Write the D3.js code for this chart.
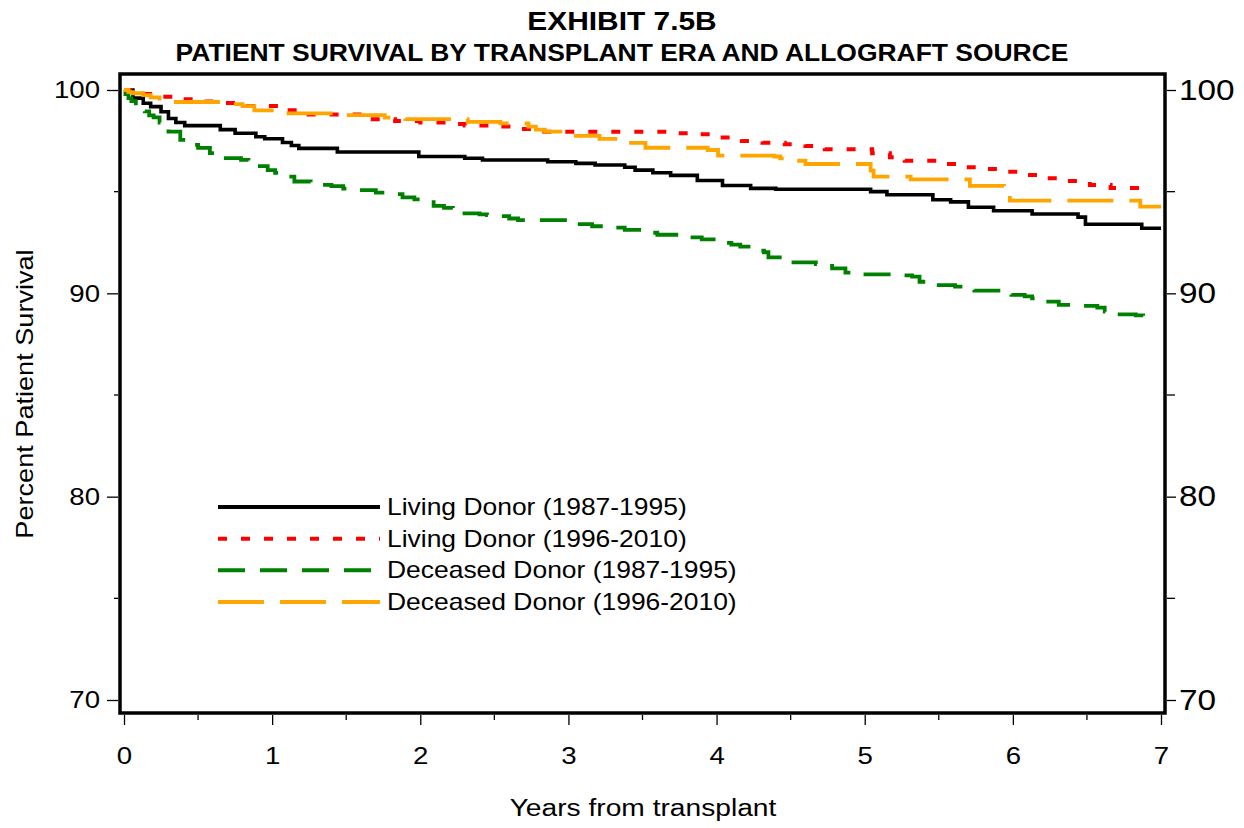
<!DOCTYPE html>
<html>
<head>
<meta charset="utf-8">
<script src="https://cdn.jsdelivr.net/npm/d3@7"></script>
<style>
  body { margin: 0; background: #fff; }
  svg { display: block; }
  text { font-family: Arial, "Liberation Sans", sans-serif; fill: #000; }
</style>
</head>
<body>
<svg id="chart" width="1244" height="828"></svg>
<script>
// Kaplan-Meier patient survival, [years, percent surviving], step after each time
const livingEarly = [[0,100],[0.06,99.6],[0.13,99.35],[0.18,99.18],[0.25,98.93],[0.30,98.6],[0.35,98.4],[0.41,98.25],[0.65,98.05],[0.75,97.87],[0.89,97.7],[0.95,97.6],[1.07,97.42],[1.13,97.27],[1.18,97.13],[1.44,96.95],[1.99,96.73],[2.30,96.64],[2.42,96.56],[2.86,96.47],[3.05,96.39],[3.18,96.31],[3.38,96.2],[3.45,96.06],[3.57,95.93],[3.69,95.8],[3.87,95.55],[4.04,95.3],[4.23,95.16],[4.40,95.12],[5.04,95.0],[5.15,94.85],[5.46,94.6],[5.58,94.5],[5.70,94.23],[5.87,94.06],[6.13,93.9],[6.44,93.75],[6.49,93.4],[6.87,93.2],[7.0,93.2]];

const livingLate = [[0,100],[0.04,99.9],[0.09,99.8],[0.21,99.67],[0.34,99.54],[0.48,99.43],[0.61,99.36],[0.78,99.21],[1.09,99.0],[1.19,98.8],[1.66,98.56],[1.83,98.47],[2.0,98.4],[2.17,98.33],[2.30,98.25],[2.47,98.2],[2.61,98.08],[2.75,97.95],[3.67,97.87],[3.86,97.82],[4.02,97.67],[4.17,97.49],[4.31,97.41],[4.46,97.33],[4.60,97.25],[4.73,97.08],[5.05,96.89],[5.17,96.69],[5.27,96.52],[5.54,96.36],[5.68,96.2],[5.81,96.11],[5.95,95.98],[6.08,95.82],[6.22,95.66],[6.35,95.52],[6.52,95.33],[6.66,95.18],[6.93,95.18]];

const deceasedEarly = [[0,100],[0.01,99.8],[0.03,99.6],[0.05,99.45],[0.08,99.25],[0.11,99.05],[0.14,98.95],[0.17,98.75],[0.20,98.65],[0.24,98.4],[0.27,98.15],[0.30,97.95],[0.38,97.55],[0.42,97.4],[0.46,97.3],[0.50,97.15],[0.58,96.9],[0.63,96.75],[0.67,96.65],[0.79,96.56],[0.84,96.4],[0.90,96.26],[0.97,96.06],[1.02,95.92],[1.07,95.74],[1.15,95.5],[1.26,95.42],[1.31,95.33],[1.40,95.27],[1.48,95.15],[1.53,95.08],[1.70,94.95],[1.76,94.88],[1.88,94.72],[1.96,94.62],[2.01,94.48],[2.09,94.3],[2.16,94.2],[2.22,94.1],[2.28,93.93],[2.40,93.88],[2.45,93.85],[2.53,93.8],[2.60,93.68],[2.66,93.6],[3.0,93.5],[3.06,93.4],[3.16,93.3],[3.30,93.23],[3.38,93.12],[3.54,92.98],[3.60,92.88],[3.77,92.75],[3.90,92.65],[4.0,92.48],[4.10,92.4],[4.16,92.3],[4.23,92.1],[4.32,92.02],[4.35,91.77],[4.45,91.64],[4.50,91.52],[4.67,91.44],[4.72,91.35],[4.78,91.23],[4.87,91.02],[4.98,90.93],[5.25,90.88],[5.32,90.82],[5.37,90.57],[5.42,90.5],[5.48,90.4],[5.61,90.33],[5.66,90.25],[5.74,90.13],[5.92,90.08],[5.99,89.92],[6.08,89.85],[6.13,89.75],[6.20,89.59],[6.31,89.43],[6.47,89.38],[6.57,89.3],[6.62,89.1],[6.67,88.97],[6.83,88.92],[6.88,88.8],[6.92,88.72]];

const deceasedLate = [[0,100],[0.03,99.9],[0.06,99.84],[0.13,99.75],[0.18,99.64],[0.24,99.41],[0.65,99.31],[0.80,99.21],[0.88,99.0],[1.02,98.93],[1.07,98.85],[1.46,98.76],[1.76,98.64],[1.90,98.57],[2.32,98.43],[2.54,98.36],[2.73,98.2],[2.78,98.05],[2.84,97.95],[2.99,97.74],[3.21,97.6],[3.40,97.4],[3.52,97.16],[3.94,97.05],[4.01,96.77],[4.39,96.73],[4.43,96.64],[4.49,96.52],[4.60,96.36],[5.04,96.03],[5.06,95.74],[5.31,95.6],[5.71,95.28],[5.94,95.12],[5.98,94.56],[6.86,94.26],[7.0,94.26]];

const seriesLabels = ["Living Donor (1987-1995)", "Living Donor (1996-2010)", "Deceased Donor (1987-1995)", "Deceased Donor (1996-2010)"];
const seriesData = [livingEarly, livingLate, deceasedEarly, deceasedLate];

const yMajorTicks = [70, 80, 90, 100];
const yMinorTicks = [75, 85, 95];
const xMajorTicks = [0, 1, 2, 3, 4, 5, 6, 7];
const xMinorTicks = [0.5, 1.5, 2.5, 3.5, 4.5, 5.5, 6.5];

const titleLines = ["EXHIBIT 7.5B", "PATIENT SURVIVAL BY TRANSPLANT ERA AND ALLOGRAFT SOURCE"];
const yTitle = "Percent Patient Survival";
const xTitle = "Years from transplant";

// line styling per series (same order as seriesData)
const styles = [
  { color: "#000000", dash: null,    width: 3.6 },
  { color: "#ff0000", dash: "9,14",  width: 4 },
  { color: "#008000", dash: "27,15", width: 3.8 },
  { color: "#ffa500", dash: "46,16", width: 3.8 }
];

const SX = 1.15; // horizontal widening applied to all lettering

const svg = d3.select("#chart");
const frame = { left: 120, top: 74, right: 1165, bottom: 713 };

const x = d3.scaleLinear().domain([0, 7]).range([124, 1161]);
const y = d3.scaleLinear().domain([70, 100]).range([700, 90]);

function wideText(sel, sx) {
  sel.each(function () {
    const t = d3.select(this);
    const xv = +t.attr("x") || 0;
    t.attr("x", xv / sx).attr("transform", `scale(${sx},1)`);
  });
}

// titles
const titleSizes = [26, 23];
const titleBase = [30, 61];
titleLines.forEach((s, i) => {
  svg.append("g").attr("transform", `translate(622,${titleBase[i]}) scale(${SX},1)`)
    .append("text").attr("text-anchor", "middle")
    .style("font-weight", "bold").style("font-size", titleSizes[i] + "px")
    .text(s);
});

// survival curves
const line = d3.line().curve(d3.curveStepAfter).x(d => x(d[0])).y(d => y(d[1]));
seriesData.forEach((data, i) => {
  svg.append("path").datum(data)
    .attr("d", line)
    .attr("fill", "none")
    .attr("stroke", styles[i].color)
    .attr("stroke-width", styles[i].width)
    .attr("stroke-dasharray", styles[i].dash)
    .attr("stroke-linejoin", "miter");
});

// plot frame
svg.append("rect")
  .attr("x", frame.left).attr("y", frame.top)
  .attr("width", frame.right - frame.left).attr("height", frame.bottom - frame.top)
  .attr("fill", "none").attr("stroke", "#000").attr("stroke-width", 3.5);

// left axis
const leftAxis = svg.append("g").attr("transform", `translate(${frame.left - 2},0)`)
  .call(d3.axisLeft(y).tickValues(yMajorTicks).tickSize(11).tickPadding(7).tickFormat(d3.format("d")));
leftAxis.select(".domain").remove();
leftAxis.selectAll("line").attr("stroke-width", 1.3);
leftAxis.selectAll("text").style("font-size", "24px").attr("font-family", null).attr("fill", "#000");
wideText(leftAxis.selectAll("text"), SX);
leftAxis.selectAll(".minor").data(yMinorTicks).enter().append("line")
  .attr("x1", -4).attr("x2", 0).attr("y1", d => y(d)).attr("y2", d => y(d))
  .attr("stroke", "#000").attr("stroke-width", 1.3);

// right axis
const rightAxis = svg.append("g").attr("transform", `translate(${frame.right + 2},0)`)
  .call(d3.axisRight(y).tickValues(yMajorTicks).tickSize(9).tickPadding(3).tickFormat(d3.format("d")));
rightAxis.select(".domain").remove();
rightAxis.selectAll("line").attr("stroke-width", 1.3);
rightAxis.selectAll("text").style("font-size", "29px").attr("font-family", null).attr("fill", "#000");
wideText(rightAxis.selectAll("text"), SX);
rightAxis.selectAll(".minor").data(yMinorTicks).enter().append("line")
  .attr("x1", 0).attr("x2", 8).attr("y1", d => y(d)).attr("y2", d => y(d))
  .attr("stroke", "#000").attr("stroke-width", 1.3);

// bottom axis
const bottomAxis = svg.append("g").attr("transform", `translate(0,${frame.bottom + 2})`)
  .call(d3.axisBottom(x).tickValues(xMajorTicks).tickSize(10).tickPadding(22).tickFormat(d3.format("d")));
bottomAxis.select(".domain").remove();
bottomAxis.selectAll("line").attr("stroke-width", 1.3);
bottomAxis.selectAll("text").style("font-size", "24px").attr("font-family", null).attr("fill", "#000");
wideText(bottomAxis.selectAll("text"), SX);
bottomAxis.selectAll(".minor").data(xMinorTicks).enter().append("line")
  .attr("x1", d => x(d)).attr("x2", d => x(d)).attr("y1", 0).attr("y2", 5)
  .attr("stroke", "#000").attr("stroke-width", 1.3);

// axis titles
svg.append("g").attr("transform", `translate(33,394) rotate(-90) scale(1.13,1)`)
  .append("text").attr("text-anchor", "middle").style("font-size", "24px").text(yTitle);
svg.append("g").attr("transform", `translate(643,816) scale(${SX},1)`)
  .append("text").attr("text-anchor", "middle").style("font-size", "24.5px").text(xTitle);

// legend
const legend = svg.append("g");
const legendY = d3.scalePoint().domain(seriesLabels).range([507, 602]);
seriesLabels.forEach((lab, i) => {
  const ly = legendY(lab);
  legend.append("line")
    .attr("x1", 218).attr("x2", 380).attr("y1", ly).attr("y2", ly)
    .attr("stroke", styles[i].color).attr("stroke-width", 4)
    .attr("stroke-dasharray", styles[i].dash);
  legend.append("g").attr("transform", `translate(387,${ly + 8}) scale(${SX},1)`)
    .append("text").style("font-size", "23px").text(lab);
});
</script>
</body>
</html>
